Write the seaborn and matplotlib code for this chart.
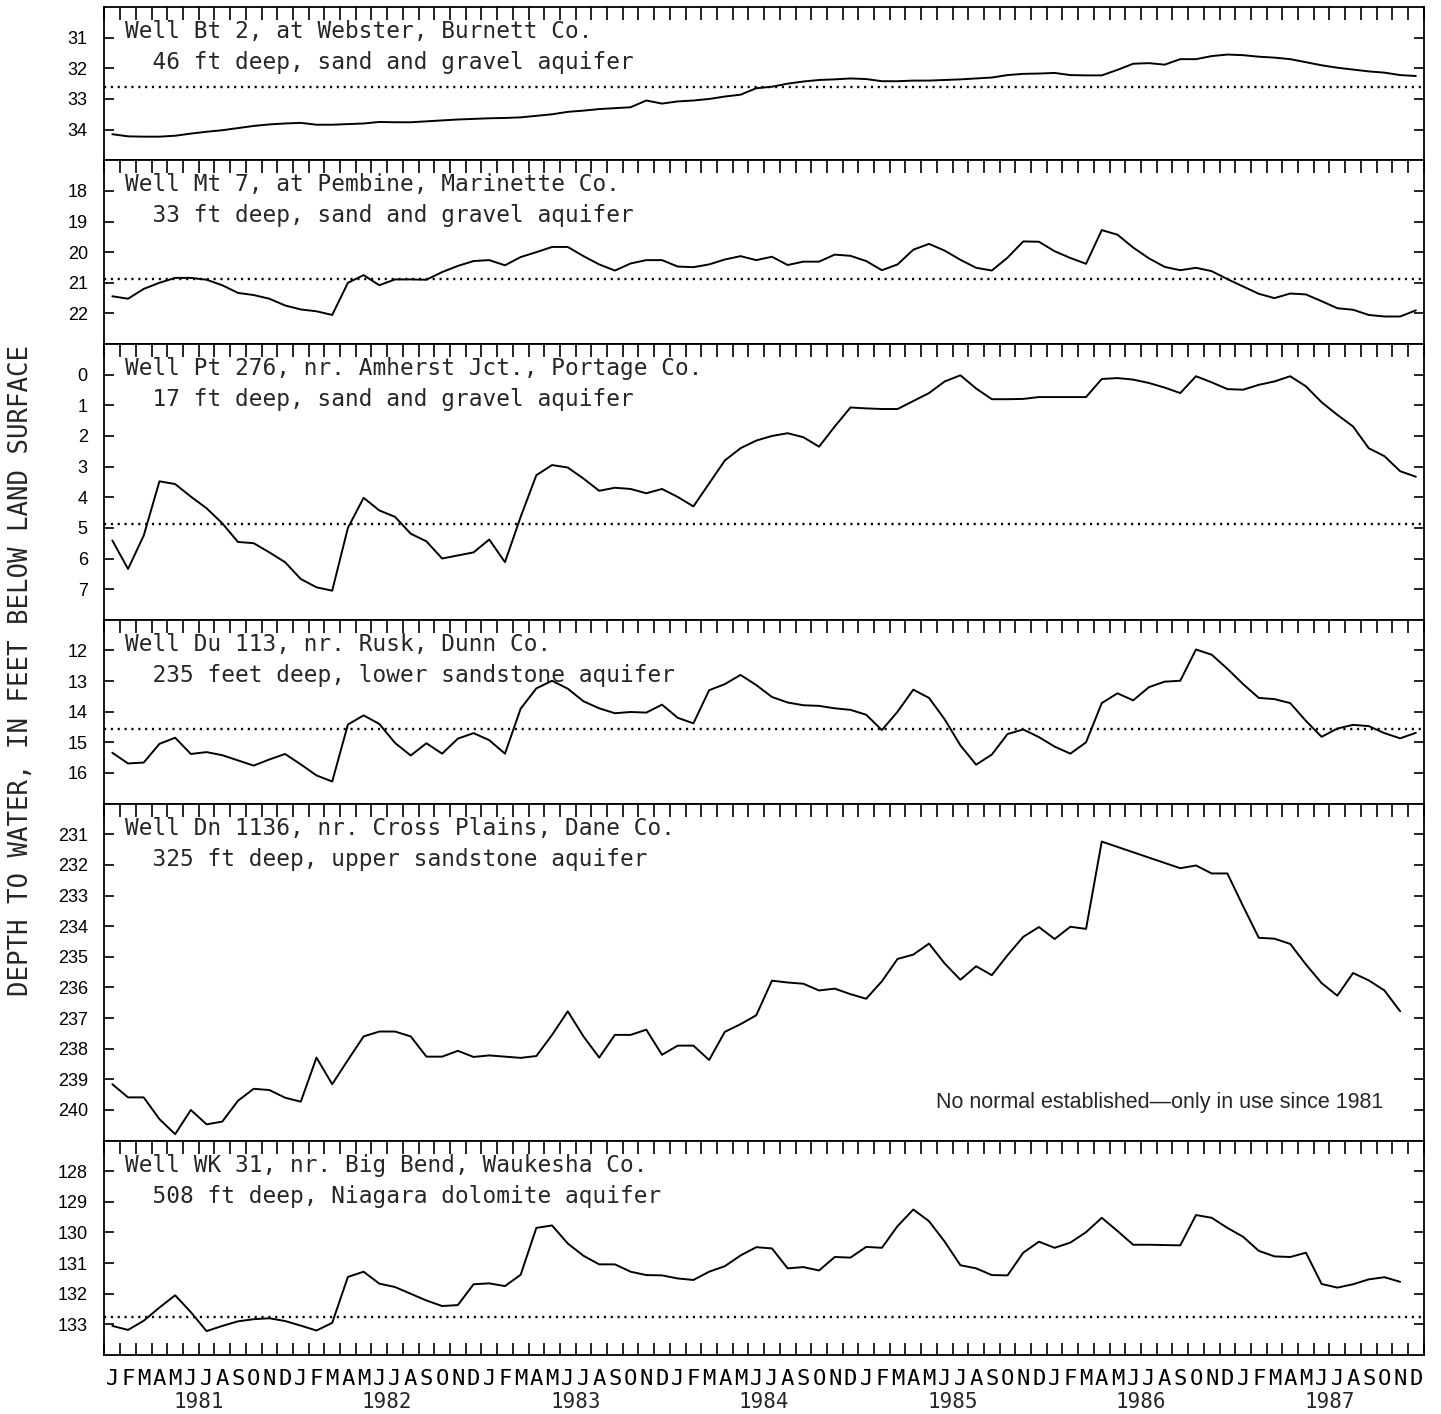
"""
Ground-water levels in six Wisconsin observation wells, 1981-1987.
Depth to water (ft below land surface), monthly, with the long-term normal
shown as a dotted line where one has been established.
"""

import numpy as np
import pandas as pd
import seaborn as sns
from matplotlib import pyplot as plt

nan = np.nan

MONTH_LETTERS = list("JFMAMJJASOND")
YEARS = [1981, 1982, 1983, 1984, 1985, 1986, 1987]

WELL_TITLES = [
    "Well Bt 2, at Webster, Burnett Co.",
    "Well Mt 7, at Pembine, Marinette Co.",
    "Well Pt 276, nr. Amherst Jct., Portage Co.",
    "Well Du 113, nr. Rusk, Dunn Co.",
    "Well Dn 1136, nr. Cross Plains, Dane Co.",
    "Well WK 31, nr. Big Bend, Waukesha Co.",
]
WELL_SUBTITLES = [
    "46 ft deep, sand and gravel aquifer",
    "33 ft deep, sand and gravel aquifer",
    "17 ft deep, sand and gravel aquifer",
    "235 feet deep, lower sandstone aquifer",
    "325 ft deep, upper sandstone aquifer",
    "508 ft deep, Niagara dolomite aquifer",
]

# monthly depth to water, Jan 1981 .. Dec 1987 (NaN = no reading)
bt2_depth = [
    34.15, 34.22, 34.23, 34.23, 34.20, 34.13, 34.07, 34.02, 33.95, 33.88, 33.83, 33.80,
    33.78, 33.84, 33.84, 33.82, 33.80, 33.75, 33.76, 33.76, 33.73, 33.70, 33.67, 33.65,
    33.63, 33.62, 33.60, 33.55, 33.50, 33.42, 33.38, 33.33, 33.30, 33.27, 33.05, 33.15,
    33.08, 33.05, 33.00, 32.92, 32.86, 32.65, 32.60, 32.50, 32.43, 32.38, 32.36, 32.33,
    32.35, 32.42, 32.42, 32.40, 32.40, 32.38, 32.36, 32.33, 32.30, 32.22, 32.18, 32.17,
    32.15, 32.22, 32.23, 32.23, 32.05, 31.85, 31.83, 31.88, 31.70, 31.70, 31.60, 31.55,
    31.57, 31.62, 31.65, 31.70, 31.80, 31.90, 31.98, 32.04, 32.10, 32.14, 32.22, 32.25,
]
mt7_depth = [
    21.44, 21.52, 21.20, 21.00, 20.84, 20.84, 20.90, 21.08, 21.33, 21.40, 21.52, 21.74,
    21.87, 21.93, 22.05, 21.00, 20.75, 21.08, 20.89, 20.89, 20.90, 20.65, 20.45, 20.29,
    20.26, 20.43, 20.16, 20.00, 19.83, 19.83, 20.13, 20.40, 20.60, 20.37, 20.26, 20.26,
    20.47, 20.49, 20.40, 20.24, 20.13, 20.26, 20.15, 20.42, 20.31, 20.31, 20.08, 20.12,
    20.29, 20.59, 20.40, 19.92, 19.73, 19.95, 20.25, 20.51, 20.60, 20.18, 19.65, 19.66,
    19.97, 20.19, 20.38, 19.28, 19.43, 19.85, 20.20, 20.48, 20.59, 20.51, 20.62, 20.88,
    21.12, 21.36, 21.50, 21.35, 21.38, 21.60, 21.83, 21.88, 22.05, 22.10, 22.10, 21.90,
]
pt276_depth = [
    5.41, 6.34, 5.25, 3.48, 3.57, 3.98, 4.36, 4.85, 5.46, 5.50, 5.80, 6.12,
    6.67, 6.94, 7.05, 5.00, 4.02, 4.43, 4.64, 5.19, 5.44, 6.00, 5.90, 5.80,
    5.38, 6.12, 4.64, 3.28, 2.95, 3.03, 3.39, 3.79, 3.69, 3.73, 3.87, 3.73,
    3.99, 4.30, 3.55, 2.80, 2.40, 2.15, 2.00, 1.91, 2.04, 2.35, 1.69, 1.07,
    1.10, 1.12, 1.12, 0.86, 0.60, 0.22, 0.02, 0.45, 0.80, 0.80, 0.79, 0.73,
    0.73, 0.73, 0.73, 0.14, 0.11, 0.16, 0.27, 0.42, 0.60, 0.05, 0.25, 0.47,
    0.49, 0.33, 0.22, 0.05, 0.38, 0.90, 1.31, 1.69, 2.40, 2.66, 3.15, 3.33,
]
du113_depth = [
    15.34, 15.69, 15.66, 15.05, 14.85, 15.38, 15.32, 15.42, 15.59, 15.76, 15.56, 15.38,
    15.72, 16.08, 16.28, 14.42, 14.12, 14.40, 15.02, 15.43, 15.03, 15.37, 14.88, 14.70,
    14.93, 15.37, 13.90, 13.24, 12.99, 13.25, 13.66, 13.89, 14.05, 14.01, 14.03, 13.77,
    14.20, 14.38, 13.30, 13.10, 12.80, 13.13, 13.52, 13.70, 13.79, 13.81, 13.89, 13.94,
    14.10, 14.60, 14.00, 13.28, 13.55, 14.25, 15.10, 15.73, 15.40, 14.73, 14.58, 14.83,
    15.14, 15.37, 15.00, 13.72, 13.40, 13.63, 13.20, 13.02, 12.99, 11.97, 12.14, 12.60,
    13.10, 13.55, 13.59, 13.72, 14.30, 14.82, 14.55, 14.43, 14.47, 14.70, 14.87, 14.69,
]
dn1136_depth = [
    239.16, 239.59, 239.59, 240.30, 240.79, 240.00, 240.47, 240.38, 239.70, 239.31, 239.35, 239.60,
    239.73, 238.29, 239.16, 238.37, 237.60, 237.44, 237.44, 237.60, 238.26, 238.26, 238.07, 238.27,
    238.22, 238.26, 238.30, 238.24, 237.55, 236.78, 237.60, 238.29, 237.55, 237.55, 237.38, 238.20,
    237.90, 237.90, 238.37, 237.45, 237.20, 236.91, 235.78, 235.84, 235.88, 236.10, 236.04, 236.22,
    236.37, 235.80, 235.07, 234.93, 234.57, 235.22, 235.75, 235.31, 235.60, 234.95, 234.35, 234.03,
    234.42, 234.02, 234.09, 231.24, nan, nan, nan, nan, 232.11, 232.02, 232.28, 232.28,
    233.35, 234.38, 234.41, 234.58, 235.25, 235.86, 236.27, 235.53, 235.77, 236.10, 236.78, nan,
]
wk31_depth = [
    133.05, 133.18, 132.88, 132.45, 132.05, 132.60, 133.22, 133.05, 132.90, 132.83, 132.80, 132.89,
    133.04, 133.20, 132.95, 131.45, 131.28, 131.67, 131.78, 132.00, 132.22, 132.40, 132.37, 131.69,
    131.66, 131.75, 131.38, 129.85, 129.77, 130.36, 130.76, 131.04, 131.04, 131.28, 131.39, 131.40,
    131.50, 131.55, 131.28, 131.10, 130.75, 130.48, 130.52, 131.17, 131.13, 131.24, 130.80, 130.82,
    130.47, 130.50, 129.79, 129.25, 129.63, 130.30, 131.07, 131.17, 131.39, 131.40, 130.66, 130.30,
    130.50, 130.33, 129.99, 129.52, 129.95, 130.40, 130.40, 130.41, 130.42, 129.43, 129.52, 129.85,
    130.14, 130.60, 130.78, 130.80, 130.66, 131.68, 131.80, 131.69, 131.53, 131.46, 131.61, nan,
]

WELL_DEPTHS = [bt2_depth, mt7_depth, pt276_depth, du113_depth, dn1136_depth, wk31_depth]
NORMAL_DEPTH = [32.62, 20.88, 4.86, 14.56, None, 132.75]
Y_RANGES = [(30, 35), (17, 23), (-1, 8), (11, 17), (230, 241), (127, 134)]
Y_TICKS = [
    [31, 32, 33, 34],
    [18, 19, 20, 21, 22],
    [0, 1, 2, 3, 4, 5, 6, 7],
    [12, 13, 14, 15, 16],
    [231, 232, 233, 234, 235, 236, 237, 238, 239, 240],
    [128, 129, 130, 131, 132, 133],
]
NO_NORMAL_NOTE = "No normal established\u2014only in use since 1981"

MONO = ["DejaVu Sans Mono"]
NARROW = ["Liberation Sans Narrow", "Liberation Sans", "DejaVu Sans"]


def style_ticks(lines, size, visible=True):
    for ln in lines:
        ln.set_visible(visible)
        ln.set_markersize(size)
        ln.set_markeredgewidth(1.2)
        ln.set_color("black")


def main() -> None:
    sns.set_style("white")
    plt.rcParams["font.family"] = MONO
    plt.rcParams.update({
        "axes.linewidth": 1.3,
        "axes.edgecolor": "black",
        "axes.axisbelow": False,
        "xtick.direction": "in", "ytick.direction": "in",
        "xtick.major.size": 6.5, "xtick.major.width": 1.2,
        "ytick.major.size": 5.0, "ytick.major.width": 1.2,
        "xtick.color": "black", "ytick.color": "black",
        "xtick.minor.size": 0, "ytick.minor.size": 0,
    })

    fig = plt.figure(figsize=(14.41, 14.14), dpi=100)
    gs = fig.add_gridspec(
        6, 1,
        height_ratios=[hi - lo for lo, hi in Y_RANGES],
        hspace=0, left=0.0725, right=0.988, top=0.995, bottom=0.0417,
    )
    n_months = 12 * len(YEARS)
    month_mid = np.arange(n_months) + 0.5

    for k in range(6):
        ax = fig.add_subplot(gs[k])
        df = pd.DataFrame({"month": month_mid, "depth": WELL_DEPTHS[k]}).dropna()
        sns.lineplot(data=df, x="month", y="depth", ax=ax, color="black",
                     linewidth=1.4, estimator=None, sort=True)
        if NORMAL_DEPTH[k] is not None:
            ax.axhline(NORMAL_DEPTH[k], color="black", linewidth=1.7,
                       linestyle=(0, (0.9, 2.0)))

        lo, hi = Y_RANGES[k]
        ax.set_xlim(0, n_months)
        ax.set_ylim(hi, lo)
        ax.set_xlabel("")
        ax.set_ylabel("")
        ax.set_axisbelow(False)
        for sp in ax.spines.values():
            sp.set_visible(True)
            sp.set_color("black")

        ax.set_yticks(Y_TICKS[k], labels=[str(t) for t in Y_TICKS[k]],
                      fontsize=13, fontfamily=NARROW)
        ax.tick_params(axis="y", which="major", direction="in", left=True,
                       right=True, length=5, width=1.2, pad=12)

        last = k == 5
        ax.set_xticks(np.arange(n_months + 1))
        ax.set_xticks(month_mid, minor=True)
        ax.tick_params(axis="x", which="major", direction="in", top=True,
                       bottom=last, length=6.5, width=1.2,
                       labelbottom=False, labeltop=False)
        if last:
            ax.set_xticklabels(MONTH_LETTERS * len(YEARS), minor=True)
            ax.tick_params(axis="x", which="minor", length=0, pad=10,
                           labelsize=16, labelbottom=True)
            for i, yr in enumerate(YEARS):
                ax.annotate(str(yr), xy=(12 * i + 6, 0),
                            xycoords=("data", "axes fraction"),
                            xytext=(0, -38), textcoords="offset points",
                            ha="center", va="baseline", fontsize=15)
        else:
            ax.tick_params(axis="x", which="minor", length=0,
                           labelbottom=False)

        # make sure the tick marks are really drawn
        xt = ax.xaxis.get_major_ticks()
        style_ticks([t.tick2line for t in xt], 9)
        style_ticks([t.tick1line for t in xt], 9, visible=last)
        yt = ax.yaxis.get_major_ticks()
        style_ticks([t.tick1line for t in yt] + [t.tick2line for t in yt], 7)

        ax.annotate(WELL_TITLES[k], xy=(0, 1), xycoords="axes fraction",
                    xytext=(15, -22.3), textcoords="offset points",
                    ha="left", va="baseline", fontsize=16.4)
        ax.annotate("  " + WELL_SUBTITLES[k], xy=(0, 1), xycoords="axes fraction",
                    xytext=(15, -44.6), textcoords="offset points",
                    ha="left", va="baseline", fontsize=16.4)

        if NORMAL_DEPTH[k] is None:
            ax.text(0.969, 0.098, NO_NORMAL_NOTE, transform=ax.transAxes,
                    ha="right", va="baseline", fontsize=15.5,
                    fontfamily=["Liberation Sans", "DejaVu Sans"])

    fig.text(0.0146, 0.526, "DEPTH TO WATER, IN FEET BELOW LAND SURFACE",
             rotation=90, ha="center", va="center", fontsize=18.5)

    fig.savefig("out.png", dpi=100)
    plt.close(fig)


if __name__ == "__main__":
    main()
